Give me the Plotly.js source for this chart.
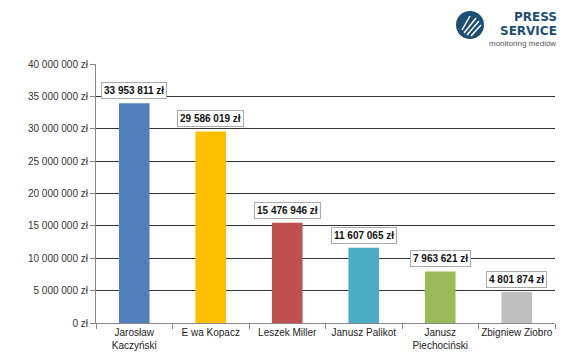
<!DOCTYPE html>
<html><head><meta charset="utf-8">
<script src="https://cdn.plot.ly/plotly-3.0.1.min.js"></script>
<style>html,body{margin:0;padding:0;background:#fff}#c{width:580px;height:362px}</style>
</head><body><div id="c"></div>
<script>
const categories = ["Jarosław<br>Kaczyński", "E wa Kopacz", "Leszek Miller", "Janusz Palikot", "Janusz<br>Piechociński", "Zbigniew Ziobro"];
const values = [33953811, 29586019, 15476946, 11607065, 7963621, 4801874];
const valueLabels = ["33 953 811 zł", "29 586 019 zł", "15 476 946 zł", "11 607 065 zł", "7 963 621 zł", "4 801 874 zł"];
const colors = ["#4F81BD", "#FFC000", "#C0504D", "#4BACC6", "#9BBB59", "#BFBFBF"];
const tickVals = [0, 5000000, 10000000, 15000000, 20000000, 25000000, 30000000, 35000000, 40000000];
const tickText = ["0 zł", "5 000 000 zł", "10 000 000 zł", "15 000 000 zł", "20 000 000 zł", "25 000 000 zł", "30 000 000 zł", "35 000 000 zł", "40 000 000 zł"];

const trace = {
  type: 'bar', x: categories, y: values,
  marker: {color: colors, line: {width: 0}},
  width: 0.4, hoverinfo: 'none'
};
const annotations = categories.map((c, i) => ({
  x: c, y: values[i], xref: 'x', yref: 'y', text: '<b>' + valueLabels[i] + '</b>',
  showarrow: false, yanchor: 'bottom', yshift: 4,
  font: {family: 'Arial, Liberation Sans, sans-serif', size: 10, color: '#111'},
  bgcolor: '#fff', bordercolor: '#aaa', borderwidth: 1, borderpad: 2
}));
const W = 580 - 96 - 25, H = 323 - 64;
function px(x){return (x-96)/W;} function py(y){return (323-y)/H;}
annotations.push(
  {xref:'paper', yref:'paper', x:px(558), y:py(9), xanchor:'right', yanchor:'top', text:'<b>PRESS</b>', showarrow:false,
   font:{family:'DejaVu Sans, sans-serif', size:12, color:'#1d4f72'}, borderpad:0},
  {xref:'paper', yref:'paper', x:px(558), y:py(23), xanchor:'right', yanchor:'top', text:'<b>SERVICE</b>', showarrow:false,
   font:{family:'DejaVu Sans, sans-serif', size:12, color:'#1d4f72'}, borderpad:0},
  {xref:'paper', yref:'paper', x:px(557), y:py(38), xanchor:'right', yanchor:'top', text:'monitoring mediów', showarrow:false,
   font:{family:'Arial, Liberation Sans, sans-serif', size:8, color:'#555'}, borderpad:0}
);
const shapes = [];
shapes.push({type:'circle', xref:'paper', yref:'paper', x0:px(456), x1:px(484), y0:py(39), y1:py(11), fillcolor:'#1d4f72', line:{width:0}, layer:'above'});
[[462,30,470,16],[464,33,476,18],[467,35,479,21],[471,36,481,25]].forEach(([a,b,c,d]) => {
  shapes.push({type:'line', xref:'paper', yref:'paper', x0:px(a), y0:py(b), x1:px(c), y1:py(d), line:{color:'#fff', width:1.5}, layer:'above'});
});

const layout = {
  width: 580, height: 362,
  margin: {l: 96, r: 25, t: 64, b: 39},
  paper_bgcolor: '#fff', plot_bgcolor: '#fff',
  showlegend: false, bargap: 0.6,
  font: {family: 'Arial, Liberation Sans, sans-serif', size: 10, color: '#222'},
  xaxis: {
    type: 'category', showline: true, linecolor: '#888', linewidth: 1,
    ticks: 'outside', tickson: 'boundaries', ticklen: 5, tickcolor: '#888',
    tickangle: 0, tickfont: {size: 10, color: '#222'}, showgrid: false, fixedrange: true
  },
  yaxis: {
    range: [0, 40000000], tickvals: tickVals, ticktext: tickText,
    showline: true, linecolor: '#888', linewidth: 1,
    ticks: 'outside', ticklen: 5, tickcolor: '#888',
    showgrid: true, gridcolor: '#333', gridwidth: 1, zeroline: false,
    tickfont: {size: 10, color: '#333'}, fixedrange: true
  },
  annotations: annotations, shapes: shapes
};
Plotly.newPlot('c', [trace], layout, {staticPlot: true});
</script></body></html>
